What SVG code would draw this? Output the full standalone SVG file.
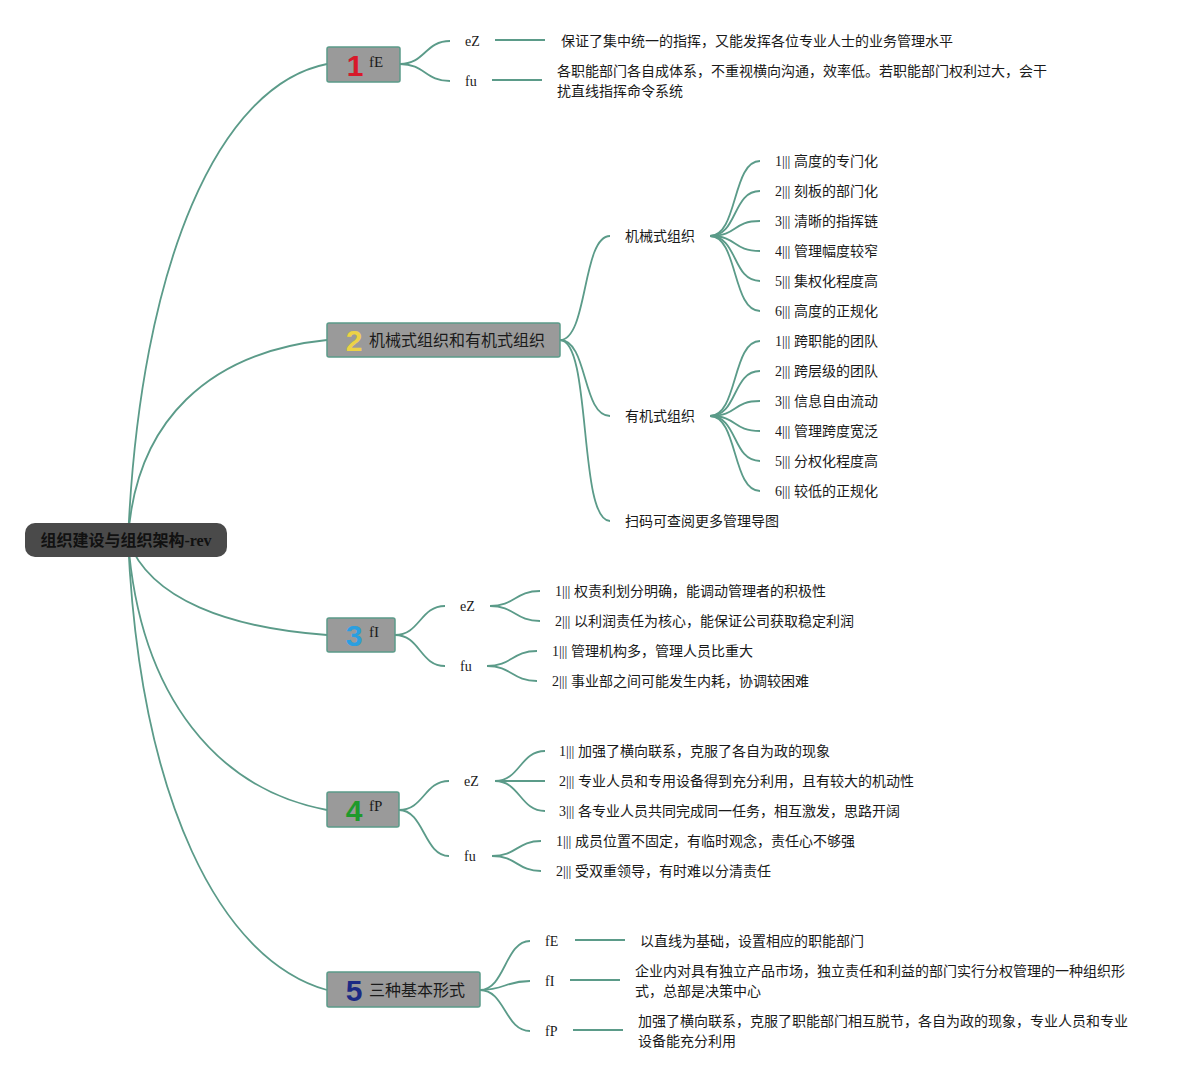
<svg xmlns="http://www.w3.org/2000/svg" width="1198" height="1080" viewBox="0 0 1198 1080">
<style>
.c{fill:none;stroke:#5b9b89;stroke-width:1.8}
.t{font-family:"Liberation Serif","Noto Sans CJK SC",serif;font-size:14px;fill:#1a1a1a}
.n{fill:#9a9a9a;stroke:#5b9b89;stroke-width:1.5}
.nt{font-family:"Liberation Serif","Noto Sans CJK SC",serif;font-size:16px;fill:#1a1a1a}
.num{font-family:"Liberation Sans","DejaVu Sans",sans-serif;font-size:30px;font-weight:bold;text-anchor:middle}
</style>
<rect width="1198" height="1080" fill="#ffffff"/>
<g id="connectors">
<path class="c" d="M128,540 C140,260 220,85 327,64"/>
<path class="c" d="M128,540 C135,420 210,352 327,340"/>
<path class="c" d="M128,540 C150,600 230,628 327,635"/>
<path class="c" d="M128,540 C140,700 220,790 327,810"/>
<path class="c" d="M128,540 C140,800 220,960 327,990"/>
<!-- node1 -->
<path class="c" d="M400,64 C425,64 425,41 450,41"/>
<path class="c" d="M400,64 C425,64 425,81 450,81"/>
<path class="c" d="M495,40 H545"/>
<path class="c" d="M492,80 H542"/>
<!-- node2 -->
<path class="c" d="M560,340 C588,340 582,236 610,236"/>
<path class="c" d="M560,340 C588,340 582,416 610,416"/>
<path class="c" d="M560,340 C592,340 578,521 610,521"/>
<path class="c" d="M710,236 C738,236 732,161 760,161"/>
<path class="c" d="M710,236 C738,236 732,191 760,191"/>
<path class="c" d="M710,236 C738,236 732,221 760,221"/>
<path class="c" d="M710,236 C738,236 732,251 760,251"/>
<path class="c" d="M710,236 C738,236 732,281 760,281"/>
<path class="c" d="M710,236 C738,236 732,311 760,311"/>
<path class="c" d="M710,416 C738,416 732,341 760,341"/>
<path class="c" d="M710,416 C738,416 732,371 760,371"/>
<path class="c" d="M710,416 C738,416 732,401 760,401"/>
<path class="c" d="M710,416 C738,416 732,431 760,431"/>
<path class="c" d="M710,416 C738,416 732,461 760,461"/>
<path class="c" d="M710,416 C738,416 732,491 760,491"/>
<!-- node3 -->
<path class="c" d="M395,635 C420,635 420,606 445,606"/>
<path class="c" d="M395,635 C420,635 420,666 445,666"/>
<path class="c" d="M490,606 C515,606 515,591 540,591"/>
<path class="c" d="M490,606 C515,606 515,621 540,621"/>
<path class="c" d="M487,666 C512,666 512,651 537,651"/>
<path class="c" d="M487,666 C512,666 512,681 537,681"/>
<!-- node4 -->
<path class="c" d="M399,810 C424,810 424,781 449,781"/>
<path class="c" d="M399,810 C424,810 424,856 449,856"/>
<path class="c" d="M495,781 C520,781 520,751 545,751"/>
<path class="c" d="M495,781 H545"/>
<path class="c" d="M495,781 C520,781 520,811 545,811"/>
<path class="c" d="M492,856 C517,856 517,841 541,841"/>
<path class="c" d="M492,856 C517,856 517,871 541,871"/>
<!-- node5 -->
<path class="c" d="M480,990 C505,990 505,941 530,941"/>
<path class="c" d="M480,990 C505,990 505,981 530,981"/>
<path class="c" d="M480,990 C505,990 505,1031 530,1031"/>
<path class="c" d="M575,940 H625"/>
<path class="c" d="M570,980 H620"/>
<path class="c" d="M573,1030 H623"/>
</g>
<g id="root">
<rect x="25" y="523" width="202" height="34" rx="10" fill="#4a4a4a"/>
<text x="126" y="546" text-anchor="middle" style="font-family:'Liberation Serif','Noto Sans CJK SC',serif;font-size:16px;font-weight:bold;fill:#111">组织建设与组织架构-rev</text>
</g>
<g id="node1">
<rect class="n" x="327" y="47" width="73" height="35" rx="2"/>
<text class="num" x="355" y="76" fill="#d8192a">1</text>
<text class="t" x="369" y="67" style="font-size:15px">fE</text>
</g>
<g id="node1-children">
<text class="t" x="465" y="46">eZ</text>
<text class="t" x="465" y="86">fu</text>
<text class="t" x="561" y="46">保证了集中统一的指挥，又能发挥各位专业人士的业务管理水平</text>
<text class="t" x="557" y="76">各职能部门各自成体系，不重视横向沟通，效率低。若职能部门权利过大，会干</text>
<text class="t" x="557" y="96">扰直线指挥命令系统</text>
</g>
<g id="node2">
<rect class="n" x="327" y="323" width="233" height="34" rx="2"/>
<text class="num" x="354" y="351" fill="#ecd246">2</text>
<text class="nt" x="369" y="346">机械式组织和有机式组织</text>
</g>
<g id="node2-children">
<text class="t" x="625" y="241">机械式组织</text>
<text class="t" x="625" y="421">有机式组织</text>
<text class="t" x="625" y="526">扫码可查阅更多管理导图</text>
<text class="t" x="775" y="166">1||| 高度的专门化</text>
<text class="t" x="775" y="196">2||| 刻板的部门化</text>
<text class="t" x="775" y="226">3||| 清晰的指挥链</text>
<text class="t" x="775" y="256">4||| 管理幅度较窄</text>
<text class="t" x="775" y="286">5||| 集权化程度高</text>
<text class="t" x="775" y="316">6||| 高度的正规化</text>
<text class="t" x="775" y="346">1||| 跨职能的团队</text>
<text class="t" x="775" y="376">2||| 跨层级的团队</text>
<text class="t" x="775" y="406">3||| 信息自由流动</text>
<text class="t" x="775" y="436">4||| 管理跨度宽泛</text>
<text class="t" x="775" y="466">5||| 分权化程度高</text>
<text class="t" x="775" y="496">6||| 较低的正规化</text>
</g>
<g id="node3">
<rect class="n" x="327" y="618" width="68" height="34" rx="2"/>
<text class="num" x="354" y="646" fill="#2a9fe0">3</text>
<text class="t" x="369" y="637" style="font-size:15px">fI</text>
</g>
<g id="node3-children">
<text class="t" x="460" y="611">eZ</text>
<text class="t" x="460" y="671">fu</text>
<text class="t" x="555" y="596">1||| 权责利划分明确，能调动管理者的积极性</text>
<text class="t" x="555" y="626">2||| 以利润责任为核心，能保证公司获取稳定利润</text>
<text class="t" x="552" y="656">1||| 管理机构多，管理人员比重大</text>
<text class="t" x="552" y="686">2||| 事业部之间可能发生内耗，协调较困难</text>
</g>
<g id="node4">
<rect class="n" x="327" y="792" width="72" height="35" rx="2"/>
<text class="num" x="354" y="821" fill="#1f9a2c">4</text>
<text class="t" x="369" y="811" style="font-size:15px">fP</text>
</g>
<g id="node4-children">
<text class="t" x="464" y="786">eZ</text>
<text class="t" x="464" y="861">fu</text>
<text class="t" x="559" y="756">1||| 加强了横向联系，克服了各自为政的现象</text>
<text class="t" x="559" y="786">2||| 专业人员和专用设备得到充分利用，且有较大的机动性</text>
<text class="t" x="559" y="816">3||| 各专业人员共同完成同一任务，相互激发，思路开阔</text>
<text class="t" x="556" y="846">1||| 成员位置不固定，有临时观念，责任心不够强</text>
<text class="t" x="556" y="876">2||| 受双重领导，有时难以分清责任</text>
</g>
<g id="node5">
<rect class="n" x="327" y="972" width="153" height="35" rx="2"/>
<text class="num" x="354" y="1001" fill="#1c2a84">5</text>
<text class="nt" x="369" y="996">三种基本形式</text>
</g>
<g id="node5-children">
<text class="t" x="545" y="946">fE</text>
<text class="t" x="545" y="986">fI</text>
<text class="t" x="545" y="1036">fP</text>
<text class="t" x="640" y="946">以直线为基础，设置相应的职能部门</text>
<text class="t" x="635" y="976">企业内对具有独立产品市场，独立责任和利益的部门实行分权管理的一种组织形</text>
<text class="t" x="635" y="996">式，总部是决策中心</text>
<text class="t" x="638" y="1026">加强了横向联系，克服了职能部门相互脱节，各自为政的现象，专业人员和专业</text>
<text class="t" x="638" y="1046">设备能充分利用</text>
</g>
</svg>
